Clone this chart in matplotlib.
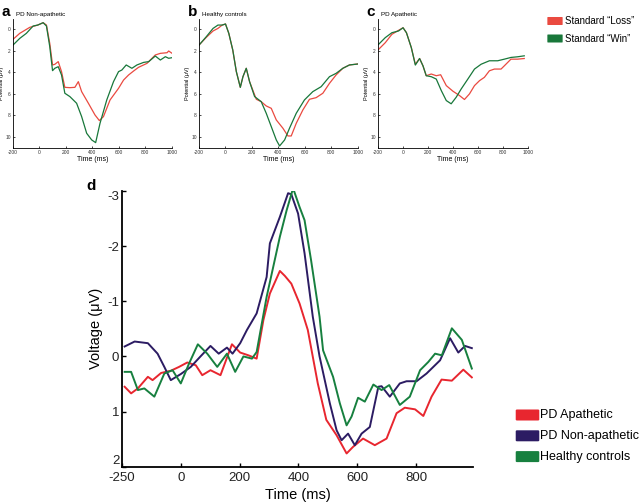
import numpy as np
import matplotlib
matplotlib.use("Agg")
from matplotlib import pyplot as plt
from matplotlib.patches import FancyBboxPatch

plt.rcParams['font.family'] = ['Liberation Sans', 'DejaVu Sans']
plt.rcParams['axes.unicode_minus'] = False

#############################################################
# Data
#############################################################
# panel a - PD Non-apathetic
aLossT = [-200, -149, -73, -13, 28, 53, 78, 99, 116, 142, 167, 192, 230, 268, 294, 319, 370, 420, 453, 484,
          534, 598, 636, 674, 712, 749, 813, 876, 914, 965, 977, 1003]
aLossV = [0.93, 0.37, -0.19, -0.40, -0.62, -0.40, 1.30, 3.31, 3.25, 3.0, 3.93, 5.39, 5.42, 5.39, 4.86, 5.79,
          6.87, 7.96, 8.48, 8.11, 6.56, 5.48, 4.71, 4.24, 3.87, 3.53, 3.16, 2.38, 2.23, 2.17, 2.01, 2.23]
aWinT = [-200, -149, -99, -48, -13, 28, 53, 78, 99, 116, 142, 167, 192, 230, 281, 319, 357, 395, 425, 458,
         509, 560, 598, 623, 656, 699, 737, 788, 826, 876, 914, 952, 977, 1003]
aWinV = [1.46, 0.84, 0.37, -0.31, -0.40, -0.62, -0.31, 1.61, 3.84, 3.62, 3.47, 4.24, 5.94, 6.25, 6.87, 8.11,
         9.66, 10.28, 10.53, 8.73, 6.56, 4.86, 3.93, 3.78, 3.31, 3.62, 3.31, 3.07, 3.0, 2.48, 2.85, 2.54, 2.69, 2.63]

# panel b - Healthy controls
bWinT = [-200, -145, -94, -57, -25, 0, 25, 55, 82, 112, 132, 157, 182, 220, 270, 308, 346, 384, 409, 447,
         484, 535, 597, 660, 723, 786, 836, 887, 937, 1000]
bWinV = [1.46, 0.68, -0.09, -0.40, -0.40, -0.50, 0.37, 1.92, 3.93, 5.39, 4.40, 3.62, 4.86, 6.25, 6.72, 7.80,
         9.04, 10.28, 10.84, 10.28, 9.19, 7.80, 6.56, 5.79, 5.33, 4.40, 4.09, 3.62, 3.31, 3.22]
bLossT = [-200, -145, -94, -57, -25, 0, 25, 55, 82, 112, 132, 157, 182, 233, 270, 308, 346, 384, 434, 472,
          497, 535, 585, 635, 685, 736, 786, 836, 887, 937, 1000]
bLossV = [1.46, 0.74, 0.15, -0.09, -0.40, -0.50, 0.37, 1.92, 3.93, 5.39, 4.40, 3.62, 4.86, 6.50, 6.72, 7.12,
          7.34, 8.42, 9.19, 9.91, 9.91, 8.73, 7.49, 6.50, 6.35, 5.94, 5.02, 4.24, 3.62, 3.31, 3.22]

# panel c - PD Apathetic
cLossT = [-195, -142, -89, -36, 0, 27, 66, 98, 132, 159, 185, 225, 265, 300, 345, 398, 450, 490, 530, 570,
          610, 649, 689, 729, 782, 808, 861, 914, 967]
cLossV = [1.86, 1.24, 0.46, 0.09, -0.15, 0.31, 1.70, 3.24, 2.71, 3.39, 4.31, 4.15, 4.31, 4.22, 5.23, 5.75,
          6.15, 6.52, 6.0, 5.23, 4.77, 4.46, 3.85, 3.69, 3.69, 3.39, 2.77, 2.77, 2.71]
cWinT = [-195, -142, -89, -36, 0, 27, 66, 98, 132, 159, 185, 225, 265, 305, 345, 384, 424, 464, 517, 570,
         623, 689, 755, 808, 861, 914, 967]
cWinV = [1.39, 0.77, 0.31, 0.15, -0.15, 0.31, 1.70, 3.32, 2.71, 3.39, 4.31, 4.40, 4.62, 5.69, 6.62, 6.92,
         6.31, 5.54, 4.62, 3.69, 3.24, 2.92, 2.92, 2.77, 2.61, 2.55, 2.46]

# panel d - group averages
apaT = [-191, -169, -146, -112, -96, -67, -34, -6, 22, 51, 73, 101, 135, 174, 202, 230, 258, 281, 303, 337,
        354, 376, 404, 432, 466, 495, 530, 564, 586, 620, 660, 700, 734, 762, 797, 825, 853, 887, 922, 961, 990]
apaV = [0.55, 0.67, 0.58, 0.37, 0.43, 0.30, 0.26, 0.19, 0.11, 0.16, 0.34, 0.25, 0.34, -0.22, -0.07, -0.02,
        0.04, -0.66, -1.14, -1.55, -1.46, -1.32, -0.96, -0.48, 0.49, 1.15, 1.43, 1.76, 1.64, 1.49, 1.61,
        1.49, 1.03, 0.93, 0.96, 1.08, 0.73, 0.42, 0.44, 0.24, 0.38]
nonT = [-191, -157, -112, -79, -56, -34, 0, 34, 67, 101, 129, 157, 176, 202, 225, 258, 292, 303, 337, 365,
        376, 399, 421, 449, 472, 507, 530, 547, 569, 592, 615, 643, 672, 683, 711, 745, 768, 802, 836, 882,
        916, 944, 967, 990]
nonV = [-0.18, -0.27, -0.24, -0.05, 0.19, 0.43, 0.32, 0.19, 0.0, -0.19, -0.05, -0.16, -0.05, -0.24, -0.48,
        -0.78, -1.44, -2.05, -2.53, -2.96, -2.94, -2.59, -1.87, -0.72, 0.0, 0.85, 1.34, 1.52, 1.40, 1.61,
        1.40, 1.28, 0.55, 0.54, 0.73, 0.49, 0.45, 0.45, 0.31, 0.07, -0.33, -0.07, -0.19, -0.15]
hcT = [-191, -169, -146, -124, -90, -56, -28, 0, 28, 58, 90, 124, 157, 185, 213, 242, 258, 292, 337, 360,
       382, 404, 421, 443, 472, 484, 518, 541, 564, 581, 603, 626, 655, 683, 709, 745, 779, 814, 842, 865,
       888, 922, 956, 990]
hcV = [0.28, 0.28, 0.61, 0.58, 0.73, 0.31, 0.25, 0.49, 0.13, -0.22, -0.05, 0.19, -0.05, 0.28, 0.0, 0.04,
       -0.08, -1.08, -2.17, -2.65, -3.05, -2.71, -2.47, -1.75, -0.72, -0.11, 0.37, 0.85, 1.25, 1.09, 0.75,
       0.82, 0.51, 0.61, 0.52, 0.88, 0.73, 0.25, 0.10, -0.05, -0.02, -0.51, -0.30, 0.22]

smallTicks = [-200, 0, 200, 400, 600, 800, 1000]
smallYTicks = [0, 2, 4, 6, 8, 10]
dXTicks = [-200, 0, 200, 400, 600, 800]
dXTickLabels = ["-250", "0", "200", "400", "600", "800"]
dYTicks = [-3, -2, -1, 0, 1, 2]

RED = "#e8262f"
PURPLE = "#2c1c63"
GREEN = "#17803f"
TOP_RED = "#ea4a40"
TOP_GREEN = "#18773a"


#############################################################
# Plot
#############################################################
fig = plt.figure(figsize=(6.4, 5.03), dpi=100)


def small_panel(rect, letter, title, loss, win):
    ax = fig.add_axes(rect)
    ax.plot(loss[0], loss[1], color=TOP_RED, lw=0.9, solid_joinstyle="round")
    ax.plot(win[0], win[1], color=TOP_GREEN, lw=0.9, solid_joinstyle="round")
    ax.set_xlim(-200, 1000)
    ax.set_ylim(11, -1)
    ax.set_xticks(smallTicks)
    ax.set_yticks(smallYTicks)
    ax.tick_params(labelsize=3.5, length=1.5, width=0.5, pad=1.5, direction="in", labelcolor="#333333")
    for s in ["top", "right"]:
        ax.spines[s].set_visible(False)
    for s in ["left", "bottom"]:
        ax.spines[s].set_linewidth(0.6)
    ax.set_xlabel("Time (ms)", fontsize=5, labelpad=1)
    ax.set_ylabel("Potential (\u03bcV)", fontsize=4, labelpad=1)
    fig.text(rect[0] - 0.018, 0.968, letter, fontsize=11, fontweight="bold", va="baseline")
    fig.text(rect[0] + 0.005, 0.968, title, fontsize=4.5, va="baseline")
    return ax


small_panel([0.0203, 0.7064, 0.248, 0.2566], "a", "PD Non-apathetic", (aLossT, aLossV), (aWinT, aWinV))
small_panel([0.311, 0.7064, 0.248, 0.2566], "b", "Healthy controls", (bLossT, bLossV), (bWinT, bWinV))
small_panel([0.5906, 0.7064, 0.235, 0.2566], "c", "PD Apathetic", (cLossT, cLossV), (cWinT, cWinV))

# top legend
for i, (lab, col) in enumerate([("Standard \u201cLoss\u201d", TOP_RED), ("Standard \u201cWin\u201d", TOP_GREEN)]):
    y = 1 - (21 + i * 17.5) / 503
    fig.patches.append(FancyBboxPatch((548 / 640, y - 3.5 / 503), 14 / 640, 7 / 503,
                                      boxstyle="round,pad=0.001", transform=fig.transFigure,
                                      color=col, lw=0))
    fig.text(565 / 640, y, lab, fontsize=7, va="center")

# panel d
ax = fig.add_axes([122 / 640, 1 - 466.7 / 503, 351.3 / 640, 275.7 / 503])
ax.plot(apaT, apaV, color=RED, lw=1.4, solid_joinstyle="round")
ax.plot(nonT, nonV, color=PURPLE, lw=1.4, solid_joinstyle="round")
ax.plot(hcT, hcV, color=GREEN, lw=1.4, solid_joinstyle="round")
ax.set_xlim(-200, 995)
ax.set_ylim(2, -3)
ax.set_xticks(dXTicks)
ax.set_xticklabels(dXTickLabels)
ax.set_yticks(dYTicks)
ax.tick_params(labelsize=9.5, length=3, width=1, direction="in", pad=2, labelcolor="#222222")
ax.tick_params(axis="x", pad=4)
ylabs = ax.get_yticklabels()
ylabs[0].set_va("top")
ylabs[-1].set_va("bottom")
for s in ["top", "right"]:
    ax.spines[s].set_visible(False)
for s in ["left", "bottom"]:
    ax.spines[s].set_linewidth(1.3)
ax.set_xlabel("Time (ms)", fontsize=10.5, labelpad=3)
ax.set_ylabel("Voltage (\u03bcV)", fontsize=10.5, labelpad=3)
fig.text(86 / 640, 1 - 190 / 503, "d", fontsize=11, fontweight="bold", va="baseline")

for i, (lab, col) in enumerate([("PD Apathetic", RED), ("PD Non-apathetic", PURPLE), ("Healthy controls", GREEN)]):
    y = 1 - (415 + i * 20.8) / 503
    fig.patches.append(FancyBboxPatch((517 / 640, y - 4.5 / 503), 21 / 640, 9 / 503,
                                      boxstyle="round,pad=0.002", transform=fig.transFigure,
                                      color=col, lw=0))
    fig.text(540 / 640, y, lab, fontsize=9, va="center")

fig.savefig("out.png", dpi=100)
